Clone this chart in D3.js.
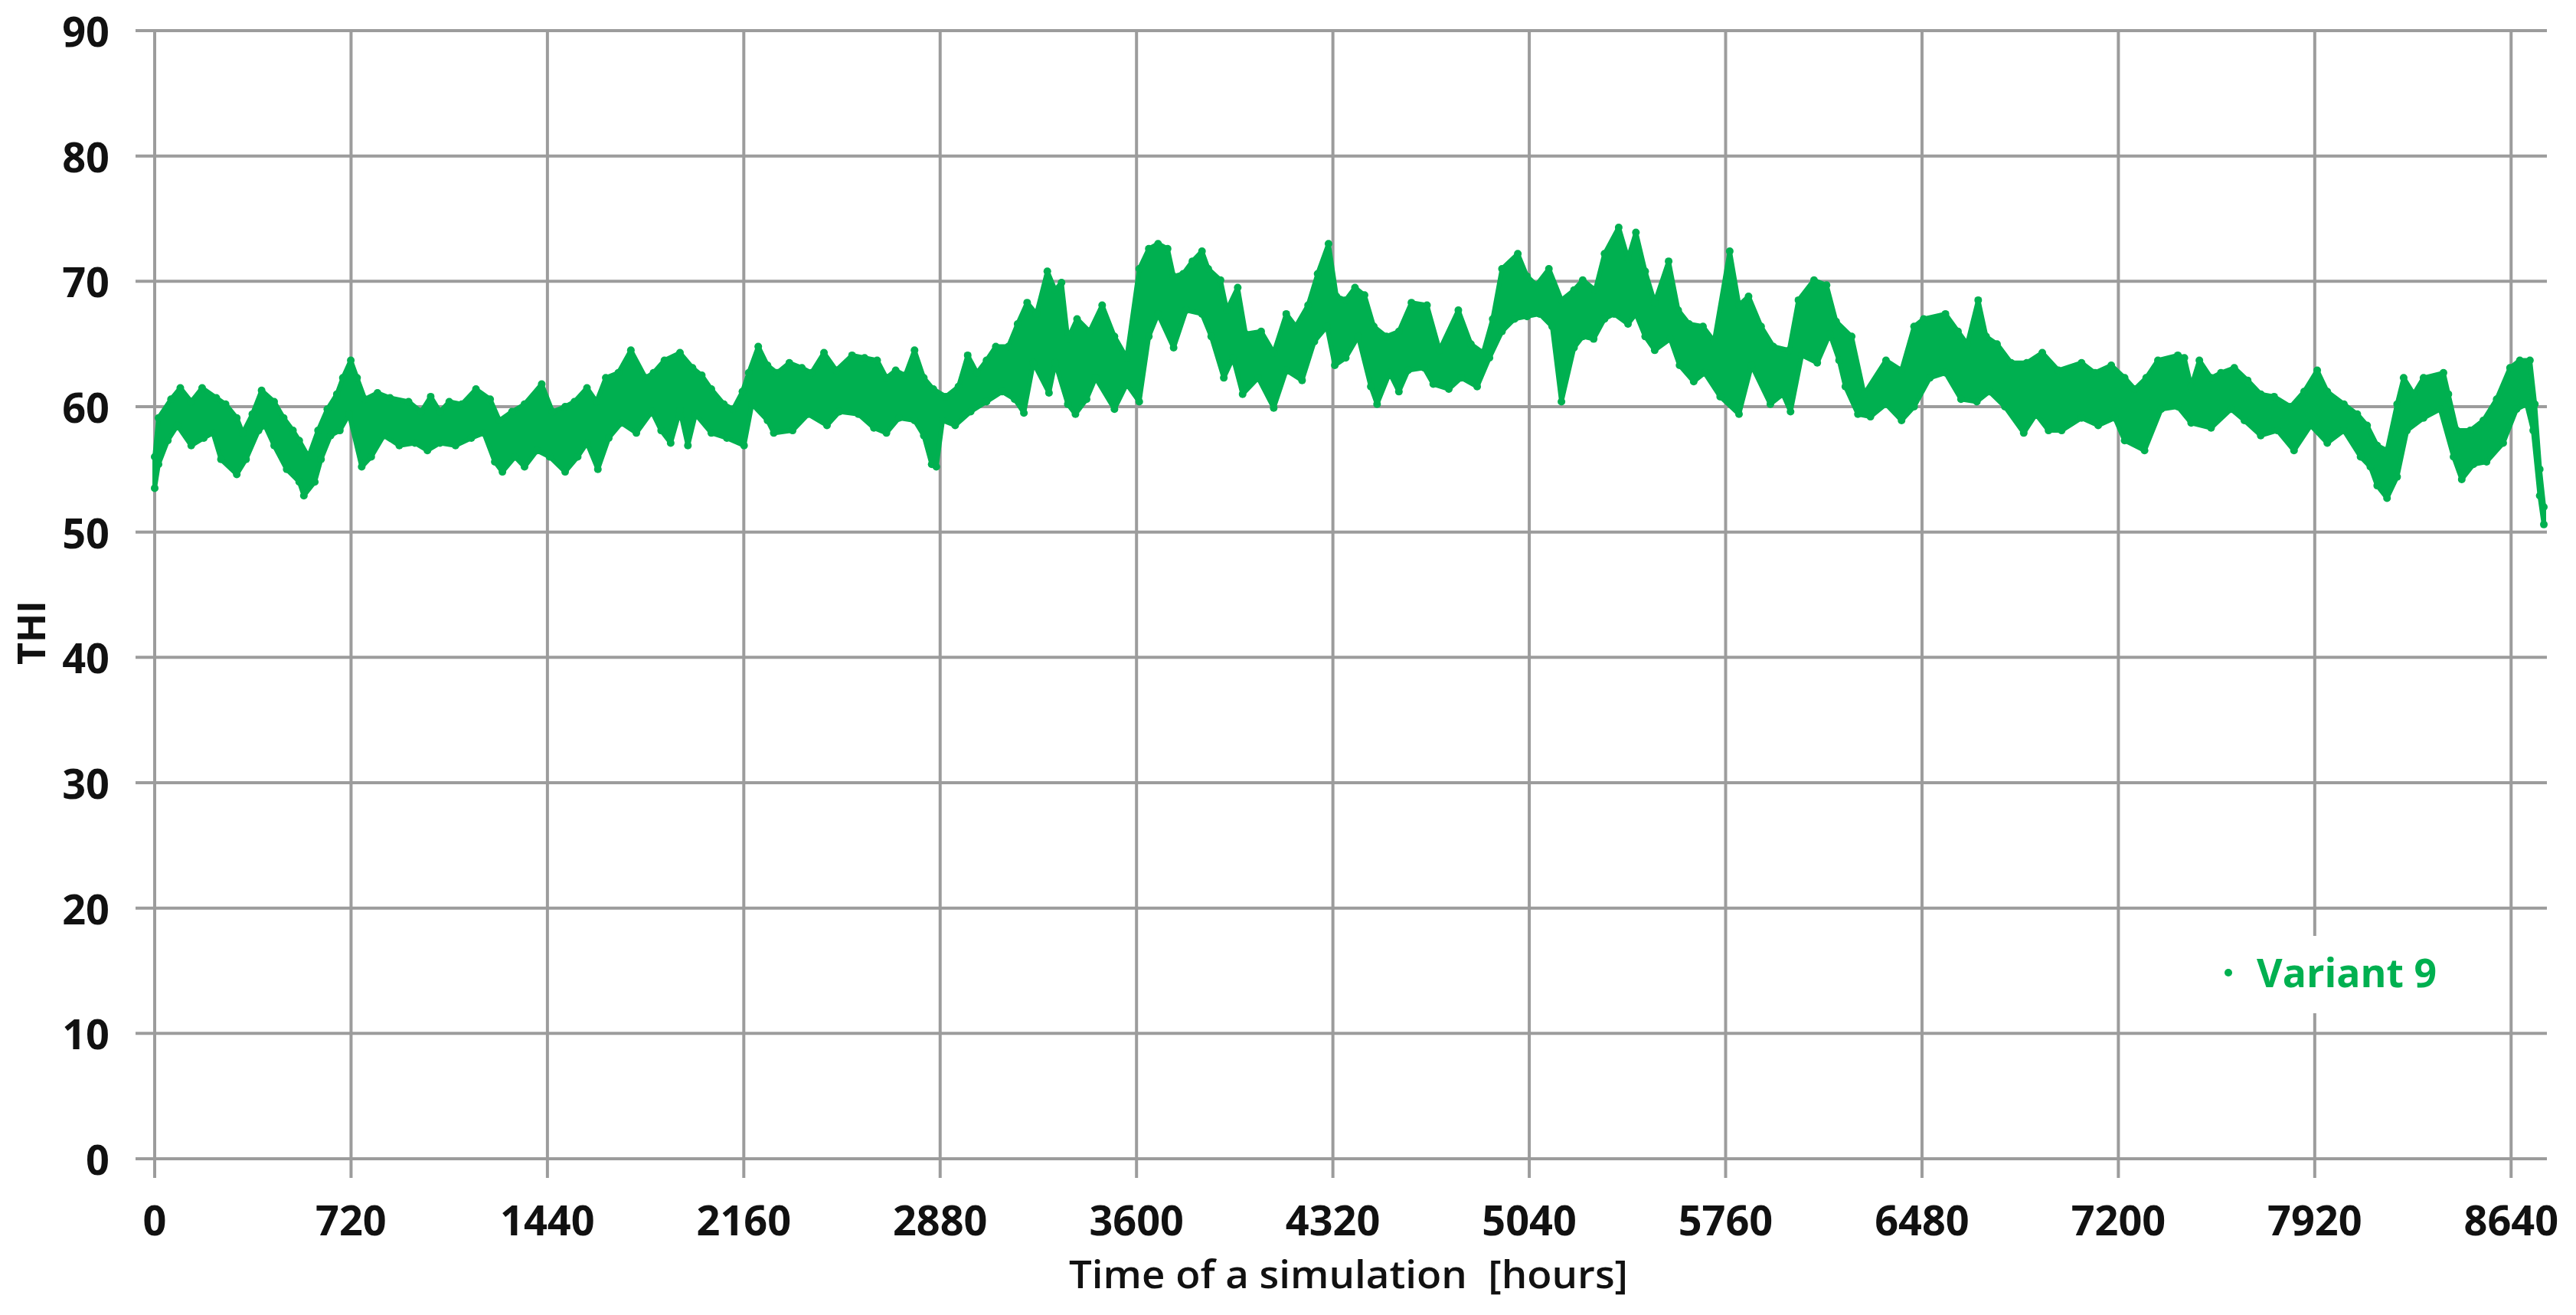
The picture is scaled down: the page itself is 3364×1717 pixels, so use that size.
<!DOCTYPE html>
<html>
<head>
<meta charset="utf-8">
<script src="https://cdn.jsdelivr.net/npm/d3@7"></script>
<style>
html,body{margin:0;padding:0;background:#fff;}
svg{display:block;}
text{font-family:"Open Sans","DejaVu Sans",sans-serif;}
</style>
</head>
<body>
<svg id="chart" width="3364" height="1717"></svg>
<script>
// ---- data (hours, THI) ----
const xTicks = [0,720,1440,2160,2880,3600,4320,5040,5760,6480,7200,7920,8640];
const yTicks = [0,10,20,30,40,50,60,70,80,90];
const seriesName = "Variant 9";

// upper outline of the cloud of hourly points
const upperHours = [0,14,60,94,134,174,226,260,301,323,358,392,438,473,507,530,564,599,633,668,690,719,742,771,817,863,931,977,1012,1046,1080,1126,1178,1230,1264,1310,1356,1419,1459,1505,1539,1585,1620,1654,1700,1746,1800,1829,1869,1926,1972,2006,2041,2087,2121,2155,2178,2213,2247,2282,2327,2373,2408,2454,2499,2557,2603,2649,2683,2717,2752,2786,2820,2855,2901,2947,2981,3015,3050,3084,3130,3164,3199,3233,3273,3302,3325,3348,3382,3428,3474,3519,3564,3610,3645,3679,3714,3736,3771,3805,3840,3863,3908,3931,3971,4000,4057,4103,4149,4184,4229,4264,4304,4333,4367,4401,4436,4470,4516,4562,4608,4665,4711,4780,4826,4871,4906,4940,4998,5032,5066,5112,5158,5204,5236,5282,5316,5368,5402,5431,5465,5500,5551,5586,5626,5677,5718,5775,5809,5844,5890,5935,5993,6027,6084,6130,6165,6222,6268,6348,6405,6451,6486,6566,6612,6646,6686,6715,6755,6807,6864,6921,6980,7065,7114,7174,7223,7260,7302,7345,7418,7442,7467,7497,7540,7576,7625,7674,7722,7771,7832,7881,7929,7966,8027,8076,8112,8149,8185,8222,8246,8283,8319,8392,8410,8441,8490,8538,8587,8636,8672,8709,8727,8745,8760];
const upperTHI = [56.0,59.1,60.6,61.5,60.4,61.5,60.7,60.2,59.1,57.9,59.4,61.3,60.4,59.1,58.1,57.3,56.0,58.1,59.8,61.0,62.3,63.7,62.3,60.6,61.1,60.7,60.4,59.6,60.8,59.6,60.4,60.2,61.4,60.6,58.9,59.6,60.2,61.8,59.6,60.0,60.4,61.5,60.4,62.3,62.7,64.5,62.3,62.7,63.7,64.3,63.1,62.5,61.4,60.2,59.8,61.2,62.7,64.8,63.3,62.7,63.5,63.1,62.7,64.3,62.9,64.1,63.9,63.7,62.3,62.9,62.5,64.5,62.3,61.4,60.8,61.6,64.1,62.7,63.7,64.8,64.8,66.6,68.3,67.4,70.8,69.3,69.9,65.4,67.0,66.0,68.1,65.6,63.9,71.0,72.6,73.0,72.6,70.4,70.6,71.6,72.4,71.0,70.1,67.7,69.5,65.8,66.0,64.3,67.4,66.4,68.1,70.6,73.0,68.8,68.5,69.5,68.9,66.4,65.6,66.0,68.3,68.1,64.5,67.7,65.0,64.3,67.0,71.0,72.2,70.4,69.7,71.0,68.5,69.3,70.1,69.3,72.2,74.3,71.8,73.9,70.8,68.3,71.6,67.7,66.6,66.4,65.2,72.4,68.1,68.8,66.4,64.8,64.5,68.5,70.1,69.7,66.8,65.6,61.0,63.7,62.9,66.4,67.0,67.4,66.0,65.0,68.5,65.6,65.0,63.5,63.5,64.3,62.9,63.5,62.7,63.3,62.3,61.4,62.3,63.7,64.1,63.9,61.6,63.7,62.3,62.7,63.1,62.1,61.0,60.8,60.0,61.2,62.9,61.2,60.2,59.4,58.5,56.9,56.5,60.2,62.3,61.0,62.3,62.7,61.0,58.1,58.1,58.9,60.6,63.1,63.7,63.7,60.2,55.0,52.0];

// lower outline of the cloud of hourly points
const lowerHours = [0,14,48,83,134,180,214,243,301,335,381,404,438,484,530,547,587,610,645,679,713,759,794,840,897,954,1000,1046,1103,1161,1207,1247,1275,1321,1356,1402,1448,1505,1551,1585,1625,1665,1711,1766,1823,1857,1892,1926,1955,1983,2041,2098,2161,2190,2247,2270,2339,2396,2465,2511,2580,2637,2683,2729,2786,2820,2849,2866,2889,2935,2992,3050,3107,3153,3187,3222,3279,3302,3348,3376,3417,3450,3519,3564,3610,3645,3679,3736,3782,3840,3874,3920,3954,3989,4046,4103,4149,4207,4252,4298,4327,4367,4413,4459,4482,4528,4562,4596,4654,4688,4745,4791,4849,4894,4940,4986,5032,5078,5124,5158,5204,5236,5276,5316,5351,5402,5431,5465,5500,5557,5591,5643,5683,5740,5809,5855,5924,5970,5998,6039,6096,6142,6176,6199,6245,6291,6348,6405,6451,6509,6566,6623,6681,6727,6784,6853,6898,6944,6992,7065,7126,7187,7223,7296,7357,7418,7467,7540,7613,7662,7722,7783,7844,7905,7966,8027,8088,8124,8149,8185,8222,8258,8319,8380,8429,8459,8502,8550,8611,8660,8697,8721,8745,8760];
const lowerTHI = [53.5,55.4,57.3,58.5,56.9,57.5,57.9,55.8,54.6,55.8,58.1,58.5,56.9,55.0,54.0,52.9,54.0,55.8,57.7,58.1,59.4,55.2,56.0,57.7,56.9,57.1,56.5,57.1,56.9,57.5,57.9,55.6,54.8,56.0,55.2,56.5,56.0,54.8,56.0,57.1,55.0,57.5,58.7,57.9,59.6,58.1,57.1,59.7,56.9,59.4,57.9,57.5,56.9,60.2,58.9,57.9,58.1,59.4,58.5,59.6,59.4,58.3,57.9,59.1,58.9,57.7,55.4,55.2,58.9,58.5,59.6,60.4,61.2,60.6,59.5,63.5,61.1,63.5,60.2,59.4,60.6,62.3,59.8,61.8,60.4,65.6,67.4,64.7,67.7,67.4,65.6,62.3,63.9,61.0,62.3,59.9,62.9,62.1,65.2,66.4,63.3,63.9,65.6,61.6,60.2,62.7,61.2,62.9,63.1,61.8,61.4,62.3,61.6,63.9,66.0,67.0,67.2,67.4,66.4,60.4,64.7,65.6,65.4,67.0,67.4,66.6,67.4,65.6,64.5,65.4,63.3,62.0,62.7,60.8,59.4,63.3,60.2,61.0,59.6,64.1,63.5,65.8,63.7,61.6,59.4,59.2,60.2,58.9,60.0,62.3,62.7,60.6,60.4,61.2,60.0,57.9,59.4,58.1,58.1,59.1,58.5,59.1,57.3,56.5,59.8,60.0,58.7,58.3,59.8,58.9,57.7,58.1,56.5,58.5,57.1,58.1,56.0,55.2,53.7,52.7,54.4,58.1,59.1,59.8,56.0,54.2,55.4,55.6,57.1,59.8,60.2,58.1,52.9,50.6];

// ---- drawing ----
const svg = d3.select("#chart");
const GREEN = "#00b050";
const GRID = "#9c9c9c";

const x = d3.scaleLinear().domain([0, 8760]).range([202, 3322]);
const y = d3.scaleLinear().domain([0, 90]).range([1513, 40]);

const g = svg.append("g");

// horizontal grid lines (with outward tick stubs)
g.selectAll("line.hgrid").data(yTicks).enter().append("line")
  .attr("class","hgrid")
  .attr("x1", x(0) - 25).attr("x2", x(8760) + 4)
  .attr("y1", d => y(d)).attr("y2", d => y(d))
  .attr("stroke", GRID).attr("stroke-width", 4);

// vertical grid lines (with outward tick stubs)
g.selectAll("line.vgrid").data(xTicks).enter().append("line")
  .attr("class","vgrid")
  .attr("x1", d => x(d)).attr("x2", d => x(d))
  .attr("y1", y(90)).attr("y2", y(0) + 25)
  .attr("stroke", GRID).attr("stroke-width", 4);

// y tick labels
g.selectAll("text.ylab").data(yTicks).enter().append("text")
  .attr("class","ylab")
  .attr("x", 143).attr("y", d => y(d))
  .attr("text-anchor","end").attr("dominant-baseline","central")
  .attr("font-size", 54).attr("font-weight", 700).attr("fill","#111")
  .text(d => d);

// x tick labels
g.selectAll("text.xlab").data(xTicks).enter().append("text")
  .attr("class","xlab")
  .attr("x", d => x(d)).attr("y", 1592)
  .attr("text-anchor","middle").attr("dominant-baseline","central")
  .attr("font-size", 54).attr("font-weight", 700).attr("fill","#111")
  .text(d => d);

// axis titles
svg.append("text")
  .attr("transform","translate(40,826) rotate(-90)")
  .attr("text-anchor","middle").attr("dominant-baseline","central")
  .attr("font-size", 50).attr("font-weight", 700).attr("fill","#111")
  .text("THI");

svg.append("text")
  .attr("x", 1761).attr("y", 1663)
  .attr("text-anchor","middle").attr("dominant-baseline","central")
  .attr("font-size", 50).attr("font-weight", 600).attr("fill","#111")
  .attr("textLength", 730).attr("lengthAdjust","spacingAndGlyphs")
  .style("white-space","pre")
  .text("Time of a simulation  [hours]");

// data band: outline of the dense hourly scatter
const upperPts = upperHours.map((h, i) => [h, upperTHI[i]]);
const lowerPts = lowerHours.map((h, i) => [h, lowerTHI[i]]);
const outline = upperPts.concat(lowerPts.slice().reverse());

const line = d3.line().x(d => x(d[0])).y(d => y(d[1]));

g.append("path")
  .attr("d", line(outline) + "Z")
  .attr("fill", GREEN)
  .attr("stroke", GREEN)
  .attr("stroke-width", 6)
  .attr("stroke-linejoin","round");

g.selectAll("circle.pt").data(upperPts.concat(lowerPts)).enter().append("circle")
  .attr("class","pt")
  .attr("cx", d => x(d[0])).attr("cy", d => y(d[1]))
  .attr("r", 5).attr("fill", GREEN);

// legend
const lg = svg.append("g");
lg.append("rect").attr("x", 2880).attr("y", 1222).attr("width", 330).attr("height", 101).attr("fill","#fff");
lg.append("circle").attr("cx", 2910).attr("cy", 1270).attr("r", 5).attr("fill", GREEN);
lg.append("text")
  .attr("x", 2947).attr("y", 1268)
  .attr("dominant-baseline","central")
  .attr("font-size", 52).attr("font-weight", 700).attr("fill", GREEN)
  .attr("textLength", 235).attr("lengthAdjust","spacingAndGlyphs")
  .text(seriesName);
</script>
</body>
</html>
